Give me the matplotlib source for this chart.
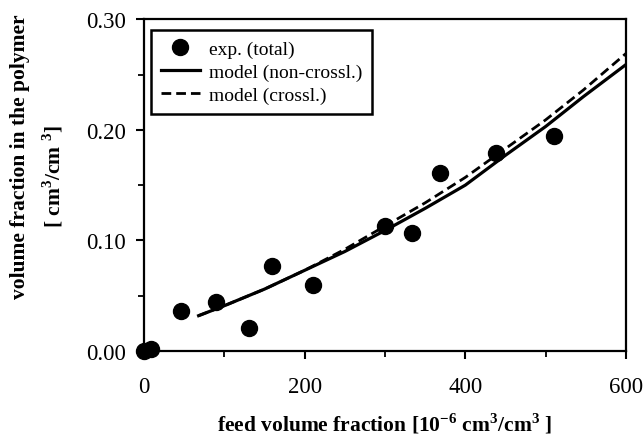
import matplotlib
matplotlib.use("Agg")
import matplotlib.pyplot as plt
from matplotlib.ticker import MultipleLocator, FormatStrFormatter

# Experimental sorption data (feed in 1e-6 cm3/cm3, polymer in cm3/cm3)
feed_exp = [0, 9, 46, 90, 131, 159, 210, 300, 334, 369, 438, 511]
poly_exp = [0.000, 0.002, 0.036, 0.044, 0.021, 0.077, 0.060, 0.113, 0.107, 0.161, 0.179, 0.194]

# Model curves
feed_model = [68, 100, 150, 200, 250, 300, 350, 400, 450, 500, 547, 600]
poly_noncross = [0.032, 0.041, 0.056, 0.073, 0.090, 0.109, 0.129, 0.150, 0.177, 0.203, 0.230, 0.259]
poly_cross = [0.032, 0.041, 0.056, 0.073, 0.092, 0.113, 0.134, 0.157, 0.183, 0.209, 0.236, 0.269]

plt.rcParams['font.family'] = ['Liberation Serif', 'DejaVu Serif']
plt.rcParams['mathtext.fontset'] = 'custom'
plt.rcParams['mathtext.rm'] = 'Liberation Serif'
plt.rcParams['mathtext.bf'] = 'Liberation Serif:bold'

W, H = 644, 439
fig = plt.figure(figsize=(W / 100, H / 100), dpi=100)
ax = fig.add_axes([0.2236, 0.198, 0.7484, 0.756])

ax.plot(feed_exp, poly_exp, 'o', color='black', markersize=11.5,
        clip_on=False, zorder=5, label='exp. (total)')
ax.plot(feed_model, poly_noncross, '-', color='black', lw=2.3,
        label='model (non-crossl.)')
ax.plot(feed_model, poly_cross, '--', color='black', lw=2.0,
        dashes=(3.5, 1.8), label='model (crossl.)')

ax.set_xlim(0, 600)
ax.set_ylim(0, 0.30)
ax.xaxis.set_major_locator(MultipleLocator(200))
ax.xaxis.set_minor_locator(MultipleLocator(100))
ax.yaxis.set_major_locator(MultipleLocator(0.10))
ax.yaxis.set_minor_locator(MultipleLocator(0.05))
ax.yaxis.set_major_formatter(FormatStrFormatter('%.2f'))

for s in ax.spines.values():
    s.set_linewidth(1.6)
ax.tick_params(which='major', direction='out', length=6, width=1.5,
               labelsize=16.5)
ax.tick_params(axis='x', which='major', pad=12)
ax.tick_params(axis='y', which='major', pad=7)
ax.tick_params(which='minor', direction='out', length=4, width=1.3)

ax.set_xlabel(r'feed volume fraction [10$^{\mathbf{-6}}$ cm$^{\mathbf{3}}$/cm$^{\mathbf{3}}$ ]',
              fontsize=15.5, fontweight='bold', labelpad=10)

# Two-line y-axis title, each line placed on its own
fig.text(20 / W, 1 - 157 / H, 'volume fraction in the polymer',
         rotation=90, ha='center', va='center', fontsize=15.5,
         fontweight='bold')
fig.text(53 / W, 1 - 177 / H, r'[ cm$^{\mathbf{3}}$/cm $^{\mathbf{3}}$]',
         rotation=90, ha='center', va='center', fontsize=15.5,
         fontweight='bold')

leg = ax.legend(loc='upper left', bbox_to_anchor=(0.0145, 0.966),
                borderaxespad=0, fancybox=False, framealpha=1,
                edgecolor='black', fontsize=14, handlelength=2.0,
                handletextpad=0.5, labelspacing=0.28, borderpad=0.5,
                numpoints=1)
leg.get_frame().set_linewidth(1.8)

fig.savefig('out.png', dpi=100)
